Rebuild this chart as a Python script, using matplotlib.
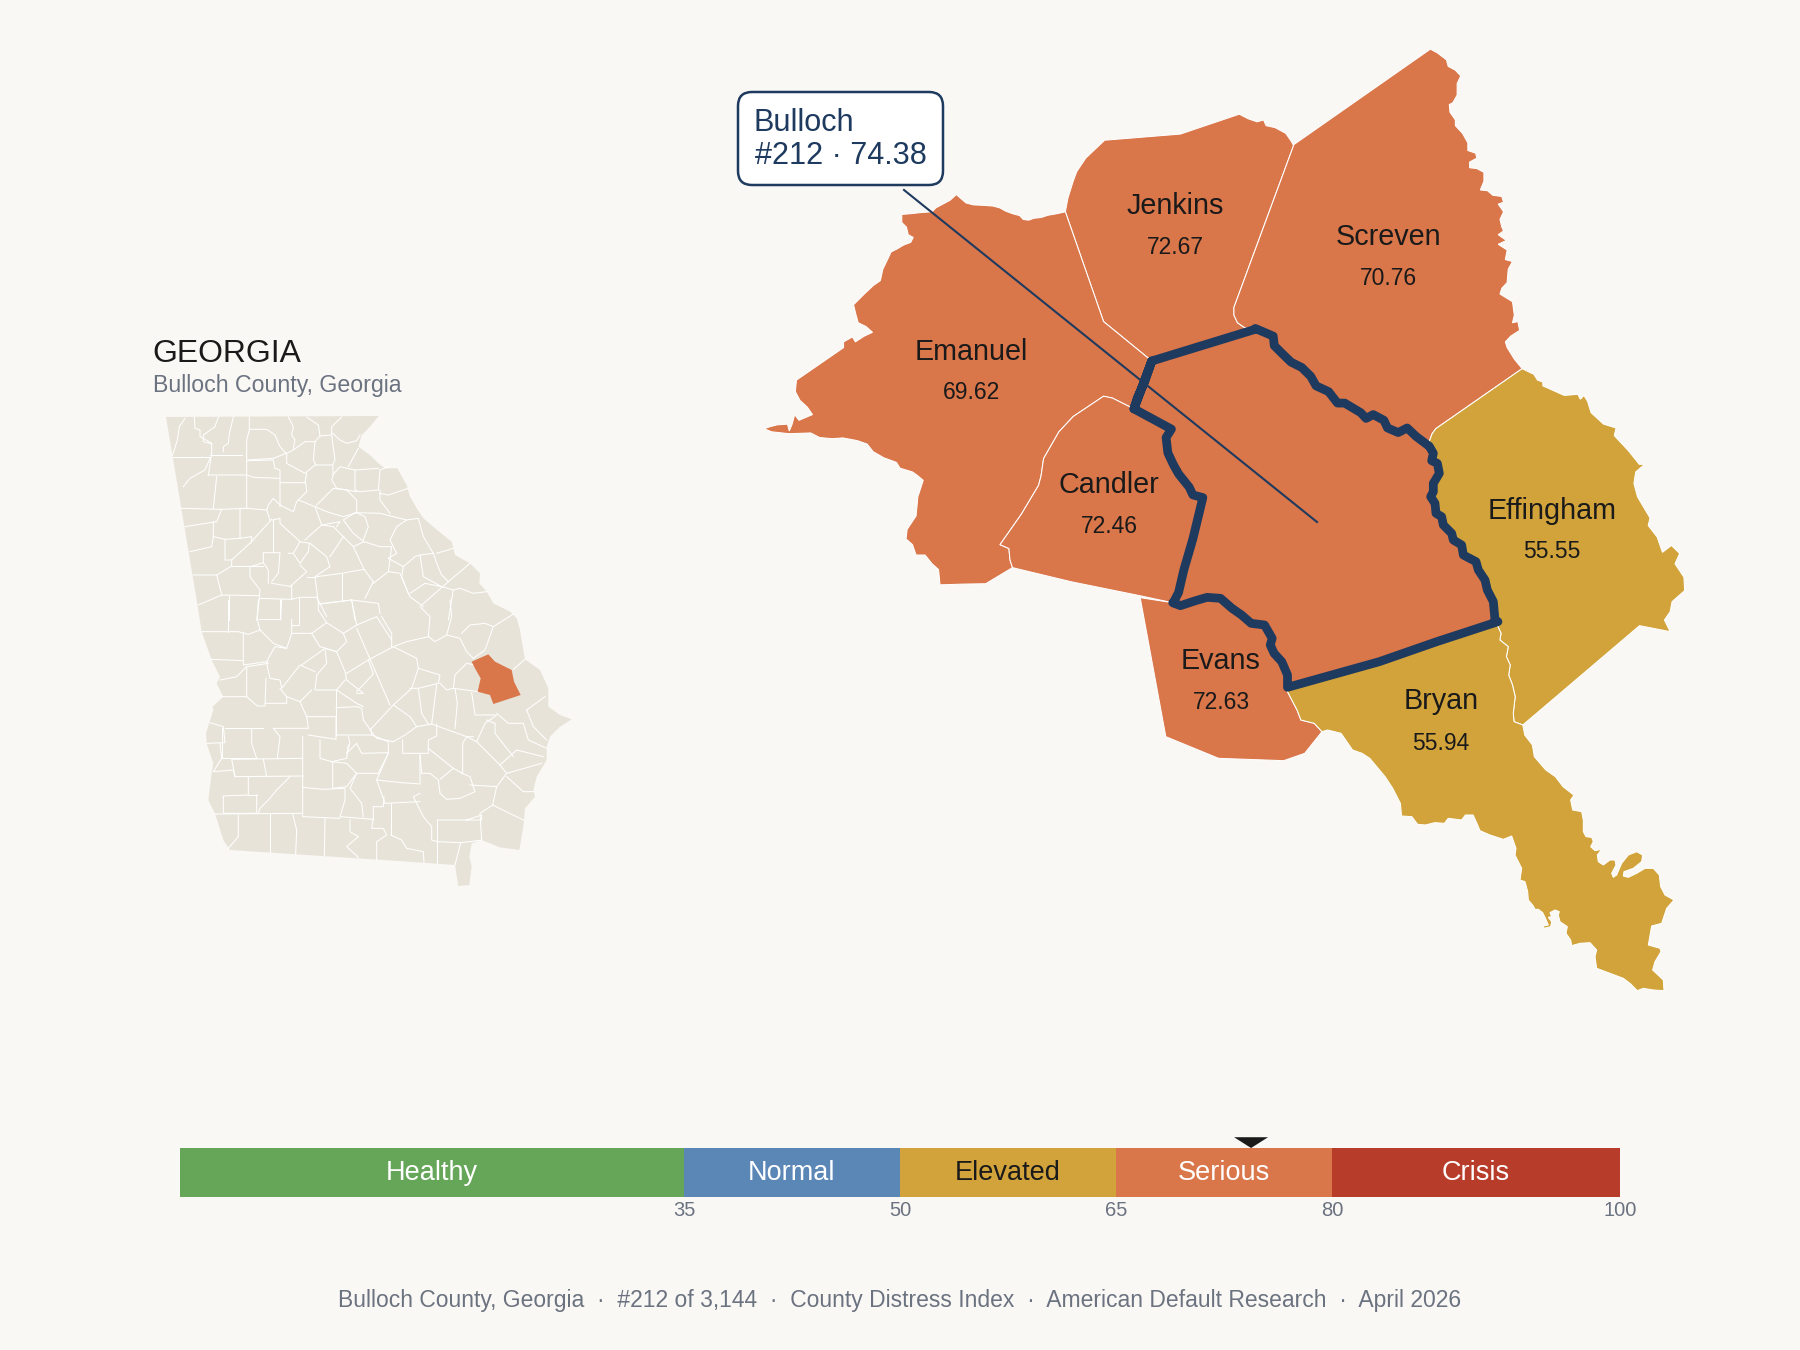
import numpy as np
import matplotlib
matplotlib.use("Agg")
import matplotlib.pyplot as plt
from matplotlib.patches import FancyBboxPatch, Polygon

plt.rcParams['font.family'] = ['Liberation Sans', 'DejaVu Sans']

# =========================
# Data
# =========================
COUNTY_NAMES = ['Jenkins', 'Screven', 'Emanuel', 'Candler', 'Effingham', 'Evans', 'Bryan']
COUNTY_SCORES = [72.67, 70.76, 69.62, 72.46, 55.55, 72.63, 55.94]
FOCUS_NAME = 'Bulloch'
FOCUS_RANK = 212
FOCUS_SCORE = 74.38

BAND_NAMES = ['Healthy', 'Normal', 'Elevated', 'Serious', 'Crisis']
BAND_EDGES = [0, 35, 50, 65, 80, 100]

# county outlines (each list has its own frame, see FRAMES)
EMANUEL_NORTH = [(883,475),(860,480),(835,484),(815,490),(795,492),(780,497),(765,495),(755,485),(735,480),(715,473),(700,465),(680,460),(650,458),(625,457),(605,452),(590,440),(578,430),(560,445),(540,455),(520,465),(510,475),(480,477),(450,480),(425,482),(425,503),(438,515),(443,535),(457,542),(450,555),(430,562),(412,572),(395,580),(385,600),(372,625),(365,655),(345,668),(320,690),(290,718),(297,745),(303,765),(325,775),(343,790),(320,800),(295,815),(287,802),(262,815),(262,830),(130,915),(127,945),(140,968),(160,985),(175,1005),(137,1020),(125,1005),(118,1030),(110,1048),(105,1030),(75,1032),(55,1037),(40,1042),(60,1050),(110,1055),(170,1053),(195,1065),(230,1068),(260,1066),(300,1073),(328,1082),(345,1102),(375,1118),(410,1130),(420,1145),(455,1155),(470,1165),(485,1177),(470,1220),(465,1270),(440,1305),(437,1330),(455,1345),(465,1372),(490,1372),(510,1395),(528,1410),(532,1450),(600,1448),(660,1447),(735,1405)]
CANDLER_WEST = [(735,1405),(728,1385),(725,1355),(700,1345),(760,1265),(808,1190),(815,1165),(822,1120),(865,1050),(905,1010),(990,957),(1015,962),(1075,990)]
CANDLER_EAST = [(1075,990),(1180,1043),(1165,1065),(1170,1105),(1185,1135),(1200,1160),(1230,1195),(1240,1215),(1268,1222),(1240,1330),(1215,1410),(1200,1470),(1185,1497)]
CANDLER_SOUTH = [(735,1405),(900,1442),(1090,1478),(1185,1497)]
BULLOCH_NW = [(1075,990),(1085,960),(1105,920),(1125,865)]
BULLOCH_NORTH = [(1125,865),(1415,782)]
JENKINS_WEST = [(1125,865),(990,762),(883,475)]
JENKINS_NORTH = [(883,475),(890,440),(905,395),(915,370),(940,335),(993,288),(1205,272),(1370,220),(1395,232),(1420,240),(1438,235),(1445,250),(1470,255),(1500,270),(1515,290),(1522,302)]
JENKINS_EAST = [(1522,302),(1355,725),(1355,745),(1365,765),(1385,778),(1415,782)]
BULLOCH_NE = [(295,780),(320,790),(345,800),(348,825),(375,850),(395,868),(425,882),(450,905),(465,930),(500,945),(525,975),(545,975),(590,1000),(605,1015),(625,1005),(655,1020),(665,1040),(695,1052),(720,1040),(745,1062),(782,1088)]
BULLOCH_EAST = [(88,79),(100,100),(95,122),(112,130),(118,160),(100,190),(100,215),(92,230),(105,250),(108,280),(125,290),(130,315),(155,340),(160,360),(185,375),(190,405),(228,425),(235,450),(255,480),(262,510),(280,545),(285,600)]
SCREVEN_OUTER = [(402,300),(785,50),(805,60),(830,78),(835,95),(855,105),(870,120),(860,140),(860,170),(848,190),(838,195),(840,215),(855,235),(855,250),(875,270),(890,295),(890,315),(912,322),(915,335),(895,345),(895,360),(915,362),(935,372),(935,395),(925,418),(945,420),(960,432),(985,435),(990,450),(975,455),(990,475),(980,495),(985,515),(990,525),(975,535),(998,550),(975,560),(1000,575),(995,600),(1015,605),(1003,625),(1000,660),(985,675),(980,690),(1015,710),(1020,745),(1015,765),(1030,762),(1035,785),(1010,800),(995,815),(1000,830),(1020,860),(1042,885)]
SCREVEN_SOUTH = [(1042,885),(800,1042),(790,1055),(782,1075),(782,1088)]
EFFINGHAM_OUTER = [(1042,885),(1075,900),(1085,915),(1100,920),(1100,930),(1160,955),(1198,952),(1205,965),(1215,955),(1225,970),(1235,1000),(1270,1030),(1305,1040),(1300,1060),(1340,1100),(1370,1135),(1385,1135),(1360,1155),(1355,1185),(1365,1220),(1400,1275),(1395,1295),(1420,1325),(1435,1365),(1460,1347),(1483,1368),(1470,1395),(1495,1430),(1497,1465)]
EFFINGHAM_SE = [(1495,125),(1490,155),(1475,180),(1490,215),(1410,197),(1105,495)]
EFFINGHAM_BRYAN = [(1105,495),(1082,485),(1080,460),(1085,410),(1078,375),(1068,345),(1072,315),(1062,290),(1067,260),(1045,240),(1048,220),(1040,200),(1040,185)]
BULLOCH_SOUTH = [(1040,185),(880,245),(730,305),(490,382)]
EVANS_BULLOCH = [(490,382),(490,345),(475,305),(455,280),(445,255),(450,235),(430,195),(395,190),(370,165),(345,145),(315,115),(280,112),(250,122),(210,137),(190,128)]
EVANS_OUTER = [(190,128),(105,113),(172,530),(310,595),(480,602),(535,580),(580,515)]
EVANS_BRYAN = [(580,515),(560,490),(525,480),(515,450),(490,395),(490,382)]
BRYAN_EAST = [(1105,495),(1110,525),(1130,555),(1135,590),(1165,630),(1190,650),(1210,680),(1238,705)]
BRYAN_TIP = [(282,45),(272,60),(278,90),(305,95),(310,120),(310,155),(318,170),(335,172),(340,185),(332,200),(345,212),(365,208),(352,225),(355,245),(370,255),(390,240),(405,240),(408,255),(395,280),(400,292),(410,285),(425,250),(445,225),(470,215),(488,225),(485,245),(460,265),(432,275),(430,288),(445,292),(470,280),(495,265),(520,265),(538,285),(542,320),(555,345),(582,360),(560,385),(545,430),(515,438),(505,495),(540,505),(543,515),(525,545),(518,570),(550,600),(552,632),(520,630),(490,625),(472,632),(450,610),(430,595),(350,565),(345,530),(350,510),(330,488),(300,490),(275,497),(272,480),(258,460),(262,440),(240,425),(235,405),(238,395),(225,390),(210,398),(215,410),(205,412),(215,425),(212,440),(192,445),(190,438),(205,435),(195,412),(188,398),(175,388),(165,388),(160,378),(145,360),(143,335),(135,305),(120,300),(125,265),(105,225),(108,205),(95,168),(70,178),(30,165),(0,152)]
BRYAN_WEST = [(985,790),(975,765),(955,765),(945,780),(910,775),(900,790),(875,788),(850,795),(830,793),(815,770),(788,768),(785,730),(765,685),(745,650),(705,595),(685,580),(660,570),(630,520),(595,510),(580,515)]

# state inset
GA_OUTLINE_N = [(78,291),(716,288),(690,320),(665,345),(655,380),(690,405),(715,430),(735,445),(772,445),(800,495),(810,530),(830,565),(850,595),(885,625),(935,665),(945,705),(990,730),(1020,760),(1018,790),(1040,815),(1060,850),(1110,875),(1130,895)]
GA_OUTLINE_S = [(1020,90),(1030,150),(1035,178),(1080,210),(1105,265),(1105,320),(1140,345),(1175,358),(1140,380),(1110,410),(1100,440),(1100,480),(1070,530),(1060,570),(1065,590),(1035,625),(1030,680),(1018,750),(960,742),(905,720),(875,730),(868,770),(875,800),(868,855),(835,858),(825,795),(640,782),(150,750),(130,720),(105,640),(85,600),(95,520),(100,490),(80,430),(78,400),(100,330),(98,320),(130,290),(110,250),(120,230),(95,180),(65,95),(50,0)]
GA_BULLOCH = [(875,185),(925,163),(945,185),(995,210),(1002,245),(1022,285),(940,312),(930,285),(893,275),(902,235),(885,205)]

GA_LINES_N = [
    [(135,295),(118,320),(112,360),(98,405)], [(98,410),(210,410)], [(163,291),(165,325),(180,330),(180,350),(215,370),(215,400),(205,465)],
    [(235,291),(225,320),(190,345),(190,365),(215,372)], [(280,291),(268,340),(265,370),(250,380),(250,395)],
    [(328,291),(328,330),(320,360),(320,465),(320,565)], [(328,328),(380,328),(405,345),(420,380),(438,400),(400,415),(325,420)],
    [(210,405),(305,405)], [(205,465),(320,465),(340,472),(420,475)], [(322,422),(400,420),(405,445),(420,450),(420,560)],
    [(210,415),(195,450),(150,475),(130,500)], [(230,470),(220,565)], [(125,565),(245,568),(320,565),(380,570)],
    [(245,568),(230,605),(135,620)], [(300,565),(300,655),(255,658),(255,720),(275,720)], [(220,605),(220,650),(255,658)],
    [(220,650),(215,680),(150,695)], [(300,655),(335,650),(335,665),(275,720),(275,738)],
    [(422,488),(497,488),(500,515),(470,545),(460,575),(420,555),(400,535),(385,555),(380,570),(390,600)],
    [(395,598),(330,670)], [(398,600),(398,695)], [(398,600),(420,595),(420,610),(480,665),(460,700),(445,700)],
    [(370,698),(420,698),(415,760),(395,785)], [(370,698),(370,728),(330,740),(330,770),(360,810),(358,830)],
    [(275,738),(370,738)], [(370,728),(385,750),(385,790)], [(160,765),(230,765),(245,825)], [(230,765),(275,738)],
    [(245,825),(175,855)], [(245,825),(358,827)], [(267,827),(267,900)], [(358,835),(350,900)],
    [(358,835),(455,838),(478,832),(530,832)], [(395,790),(455,800),(455,838)], [(425,838),(422,900)], [(478,835),(478,900)],
    [(530,832),(540,850),(560,890)], [(540,852),(635,840),(715,850),(720,880)], [(635,840),(645,900)], [(605,760),(605,840)],
    [(530,770),(605,760),(672,748),(700,785),(675,835)], [(700,790),(745,755),(780,760),(805,820),(810,830),(850,860)],
    [(480,665),(510,670),(560,710),(570,740),(525,770),(535,850)], [(500,770),(525,770)], [(480,735),(500,755),(450,800)],
    [(570,710),(610,650),(640,680),(672,748)], [(495,660),(545,615),(580,620),(610,650)], [(508,670),(505,695),(480,730),(460,700)],
    [(640,680),(672,665),(720,680),(755,680),(745,755)], [(590,620),(600,605),(545,615),(525,560),(475,540)],
    [(530,555),(580,505),(620,510),(650,540),(650,575),(610,600),(640,640),(672,665)],
    [(525,560),(560,575),(610,590),(650,578),(675,590),(685,620),(670,660)],
    [(645,578),(720,580),(800,600),(835,595),(850,650),(880,700),(840,705),(825,710),(790,740),(745,715)],
    [(800,600),(770,620),(750,660),(770,700),(745,715)], [(840,705),(850,770),(905,800),(855,790),(810,820)],
    [(880,700),(890,730),(905,765),(925,785),(990,730)], [(940,685),(890,700)], [(925,785),(845,855)],
    [(905,800),(940,810),(925,900)], [(940,810),(960,805),(1000,820),(1040,815)], [(790,740),(785,770),(805,820)], [(500,460),(495,488)],
    [(440,400),(440,430),(495,460),(525,435),(578,435),(580,465),(575,480),(590,505),(650,515)], [(495,365),(460,390),(440,400)],
    [(525,365),(520,420),(528,435)], [(495,365),(525,365),(540,348),(575,345),(585,420),(578,435)],
    [(578,465),(600,440),(645,450),(645,510),(660,515),(715,510),(720,450),(745,440)], [(645,450),(715,445)], [(625,440),(655,385)],
    [(578,340),(600,360),(620,370),(650,362),(660,345)], [(445,291),(460,320),(455,345),(465,360),(460,385)],
    [(500,291),(535,315),(540,348)], [(605,291),(575,320),(575,345)], [(720,520),(745,525),(805,505)], [(720,510),(720,540),(750,580)],
]
GA_LINES_S = [
    [(65,95),(175,95),(205,103),(240,90)], [(145,0),(145,95)], [(235,0),(232,60),(240,90)], [(300,0),(300,58),(238,58)],
    [(335,58),(335,100),(320,145),(280,130),(260,110),(240,90)], [(358,0),(358,75),(335,75)],
    [(335,100),(395,100),(440,68),(415,30),(415,12),(515,0)], [(395,100),(420,140),(470,155),(500,125),(490,100),(440,68)],
    [(515,0),(530,75),(590,50),(635,120)], [(530,75),(490,100)], [(530,85),(630,315)], [(470,155),(495,215),(500,240)],
    [(470,155),(435,145),(365,195)], [(435,145),(440,190),(410,225),(405,270),(470,270),(495,240)], [(190,100),(190,195),(260,185)],
    [(92,178),(190,182)], [(320,145),(285,140),(265,175),(260,190)], [(260,190),(270,235),(300,240),(305,265),(360,195),(405,215)],
    [(265,190),(200,200),(200,290),(125,290)], [(200,200),(170,230),(120,240)], [(200,290),(232,318),(255,318),(258,235)],
    [(255,310),(320,310),(320,290),(300,265)], [(320,290),(360,305),(395,270)], [(360,305),(380,350),(385,385),(280,385),(300,410),(292,475)],
    [(380,350),(468,350),(468,418),(385,405)], [(468,270),(468,405)], [(468,323),(530,320),(545,325),(550,360),(575,395),(575,405),(468,405)],
    [(470,270),(530,310),(550,320)], [(500,240),(550,280),(530,280)], [(500,220),(565,180),(640,140),(710,175),(715,205),(695,265),(640,315),(570,390)],
    [(565,180),(580,222),(530,275)], [(640,140),(680,125),(745,110),(765,125),(800,105),(840,115),(860,155),(880,175)],
    [(605,50),(635,100),(635,140)], [(745,110),(750,50),(720,20)], [(800,105),(815,50),(810,0)], [(845,100),(870,75),(915,70),(940,80),(915,150),(880,175)],
    [(940,80),(1000,42)], [(1035,178),(1000,208)], [(715,205),(780,225),(775,250),(715,265),(690,265)],
    [(780,250),(800,270),(820,265),(825,225),(860,190),(885,195)], [(820,265),(895,275)], [(875,278),(885,345),(945,345)],
    [(825,265),(832,310),(825,385)], [(770,255),(755,372)], [(715,265),(725,340),(745,372)], [(640,315),(690,350),(710,380),(755,372),(860,410),(880,410)],
    [(570,390),(590,415),(640,425),(675,405),(710,380)], [(770,372),(770,408),(745,420),(745,460),(668,460),(668,420)],
    [(575,405),(625,425),(625,460),(595,520),(530,520),(500,490),(455,485),(420,475),(420,420)], [(505,410),(510,430),(500,460),(530,430),(545,460),(625,458)],
    [(505,435),(500,475),(455,485)], [(625,460),(590,540),(665,548),(720,552),(720,465)],
    [(720,465),(725,520),(750,520),(775,540),(780,580),(800,598),(840,595),(885,575),(870,530),(845,520)], [(745,445),(820,505),(780,538)],
    [(820,505),(848,520),(848,430),(860,410),(890,425),(960,495),(1010,450)], [(870,555),(950,560),(938,615),(900,640),(905,720)],
    [(960,495),(980,520),(950,560)], [(980,530),(1030,575),(1060,575)], [(938,615),(1030,660)], [(980,520),(1085,490)], [(1010,450),(1090,470)],
    [(890,425),(915,370),(950,345)], [(920,360),(945,370),(945,400),(1000,470)], [(950,340),(985,370),(1030,370),(1045,420),(1100,445)],
    [(1040,330),(1060,380),(1100,420)], [(1040,330),(1095,290)], [(590,540),(615,610),(720,605)], [(720,580),(700,590),(730,650),(755,680),(755,720),(772,725)],
    [(632,610),(632,705)], [(580,620),(580,655),(575,685),(610,685),(620,705),(590,725),(590,780)], [(632,705),(665,720),(680,745),(730,755),(732,788)],
    [(530,520),(510,565),(545,610),(550,650)], [(458,485),(458,565),(500,560),(530,520)], [(368,410),(368,650),(480,655)],
    [(368,562),(430,568),(495,565),(495,600),(480,650),(580,658)], [(612,590),(610,620),(580,620)], [(158,478),(368,475)],
    [(125,385),(125,475),(230,475)], [(135,385),(250,385)], [(90,368),(130,380),(135,428),(80,430)], [(120,430),(125,475),(100,515),(160,510),(165,530),(370,528)],
    [(155,478),(165,530)], [(250,478),(260,530)], [(215,385),(215,430),(230,475)], [(205,530),(205,585),(130,588),(130,640),(230,640),(230,585)],
    [(105,642),(365,640)], [(205,585),(230,585)], [(330,530),(290,570),(265,600),(240,625),(235,640)], [(175,645),(175,710),(145,745)],
    [(270,642),(270,760)], [(338,642),(350,690),(347,762)], [(435,655),(433,768)], [(510,660),(510,695),(535,710),(500,740),(535,772)],
    [(772,660),(905,660),(905,645),(860,660)], [(772,660),(772,790)], [(772,725),(842,728),(825,795)], [(842,728),(870,725),(905,720)],
]

# =========================
# Layout / style
# =========================
FRAMES = {
    'west': (750, 30, 2.8, 2.6133),
    'east': (1150, 30, 2.8, 2.6133),
    'south': (1100, 560, 2.6133, 3.0),
    'bulloch_e': (1400, 420, 3.0, 3.0),
    'tip': (1480, 780, 3.0, 3.0),
    'ga_n': (140, 320, 3.0, 3.0),
    'ga_s': (180, 600, 3.0, 3.0),
}

BG = '#FAF8F5'
NAVY = '#1E3A5F'
INK = '#1A1A1A'
GRAY = '#6B7280'
SERIOUS = '#D9764A'
ELEVATED = '#D1A33A'
BAND_COLORS = ['#66A659', '#5B87B7', ELEVATED, SERIOUS, '#B73C2A']
BAND_TEXT = ['white', 'white', INK, 'white', 'white']

LABEL_X = [1175, 1388, 971, 1109, 1552, 1221, 1441]
LABEL_Y = [214, 245, 360, 493, 519, 669, 709]
VALUE_Y = [254, 285, 399, 533, 558, 709, 750]


def px(points, frame):
    x0, y0, sx, sy = FRAMES[frame]
    pts = np.array(points, dtype=float)
    return np.column_stack([x0 + pts[:, 0] / sx, y0 + pts[:, 1] / sy])


def ring(*parts):
    return np.vstack(parts)


# segments in figure pixels
em_n = px(EMANUEL_NORTH, 'west')
ca_w = px(CANDLER_WEST, 'west')
ca_e = px(CANDLER_EAST, 'west')
ca_s = px(CANDLER_SOUTH, 'west')
bu_nw = px(BULLOCH_NW, 'west')
bu_n = px(BULLOCH_NORTH, 'west')
je_w = px(JENKINS_WEST, 'west')
je_n = px(JENKINS_NORTH, 'west')
je_e = px(JENKINS_EAST, 'west')
bu_ne = px(BULLOCH_NE, 'east')
bu_e = px(BULLOCH_EAST, 'bulloch_e')
sc_o = px(SCREVEN_OUTER, 'east')
sc_s = px(SCREVEN_SOUTH, 'east')
ef_o = ring(px(EFFINGHAM_OUTER, 'east'), px(EFFINGHAM_SE, 'south'))
ef_b = px(EFFINGHAM_BRYAN, 'south')
bu_s = px(BULLOCH_SOUTH, 'south')
ev_b = px(EVANS_BULLOCH, 'south')
ev_o = px(EVANS_OUTER, 'south')
ev_br = px(EVANS_BRYAN, 'south')
br_o = ring(px(BRYAN_EAST, 'south'), px(BRYAN_TIP, 'tip'), px(BRYAN_WEST, 'south'))

county_rings = {
    'Emanuel': ring(em_n, ca_w, bu_nw, je_w),
    'Candler': ring(ca_w, ca_e, ca_s[::-1]),
    'Jenkins': ring(je_n, je_e, bu_n[::-1], je_w),
    'Screven': ring(sc_o, sc_s, bu_ne[::-1], je_e[::-1]),
    'Effingham': ring(ef_o, ef_b, bu_e[::-1], sc_s[::-1]),
    'Bryan': ring(bu_s[::-1], ef_b[::-1], br_o, ev_br),
    'Evans': ring(ev_o, ev_br, ev_b),
}
bulloch_ring = ring(bu_n, bu_ne, bu_e, bu_s, ev_b, ca_e[::-1], bu_nw[::-1])

# =========================
# Figure
# =========================
W, H = 1800, 1350
fig = plt.figure(figsize=(12, 9), dpi=150, facecolor=BG)
ax = fig.add_axes([0, 0, 1, 1])
ax.set_xlim(0, W)
ax.set_ylim(H, 0)
ax.axis('off')

# inset
ga = ring(px(GA_OUTLINE_N, 'ga_n'), px(GA_OUTLINE_S, 'ga_s'))
ax.add_patch(Polygon(ga, closed=True, facecolor='#E8E3D8', edgecolor='none', zorder=1))
for line in GA_LINES_N:
    p = px(line, 'ga_n')
    ax.plot(p[:, 0], p[:, 1], color='white', lw=0.5, zorder=2, solid_joinstyle='round')
for line in GA_LINES_S:
    p = px(line, 'ga_s')
    ax.plot(p[:, 0], p[:, 1], color='white', lw=0.5, zorder=2, solid_joinstyle='round')
ax.add_patch(Polygon(px(GA_BULLOCH, 'ga_s'), closed=True, facecolor=SERIOUS, edgecolor='none', zorder=3))

ax.text(152, 362, 'GEORGIA', fontsize=15.3, color=INK, va='baseline')
ax.text(153, 392, 'Bulloch County, Georgia', fontsize=11.1, color=GRAY, va='baseline')

# counties
ax.add_patch(Polygon(bulloch_ring, closed=True, facecolor=SERIOUS, edgecolor='none', zorder=4))
for name, score, lx, ly, vy in zip(COUNTY_NAMES, COUNTY_SCORES, LABEL_X, LABEL_Y, VALUE_Y):
    fill = ELEVATED if score < 65 else SERIOUS
    ax.add_patch(Polygon(county_rings[name], closed=True, facecolor=fill,
                         edgecolor='white', linewidth=0.5, zorder=4))
    ax.text(lx, ly, name, fontsize=13.8, color=INK, ha='center', va='baseline', zorder=8)
    ax.text(lx, vy, f'{score:.2f}', fontsize=11, color=INK, ha='center', va='baseline', zorder=8)

ax.add_patch(Polygon(bulloch_ring, closed=True, facecolor='none', edgecolor=NAVY,
                     linewidth=4.2, joinstyle='round', zorder=5))

# callout
ax.plot([904, 1317], [190, 522], color=NAVY, lw=1.0, zorder=6)
ax.add_patch(FancyBboxPatch((751, 105), 179, 67, boxstyle='round,pad=13,rounding_size=14',
                            facecolor='white', edgecolor=NAVY, linewidth=1.2, zorder=7))
ax.text(754, 131, FOCUS_NAME, fontsize=14.7, color=NAVY, va='baseline', zorder=8)
ax.text(755, 164, f'#{FOCUS_RANK} · {FOCUS_SCORE:.2f}', fontsize=14.7, color=NAVY, va='baseline', zorder=8)

ax.text(900, 1307, 'Bulloch County, Georgia  ·  #212 of 3,144  ·  County Distress Index  ·  American Default Research  ·  April 2026',
        fontsize=11, color=GRAY, ha='center', va='baseline')

# score bar
ax_bar = fig.add_axes([180 / W, 1 - 1197 / H, 1440 / W, 49 / H], facecolor='none')
ax_bar.set_xlim(BAND_EDGES[0], BAND_EDGES[-1])
ax_bar.set_ylim(0, 1)
lefts = np.array(BAND_EDGES[:-1])
widths = np.diff(BAND_EDGES)
ax_bar.barh(0.5, widths, left=lefts, height=1, color=BAND_COLORS, linewidth=0)
for name, left, width, col in zip(BAND_NAMES, lefts, widths, BAND_TEXT):
    ax_bar.text(left + width / 2, 0.35, name, fontsize=13, color=col, ha='center', va='baseline')
for s in ax_bar.spines.values():
    s.set_visible(False)
ax_bar.set_yticks([])
ax_bar.set_xticks(BAND_EDGES[1:])
ax_bar.set_xticklabels([str(v) for v in BAND_EDGES[1:]], fontsize=9.7, color=GRAY)
ax_bar.tick_params(axis='x', length=0, pad=1.9)
ax_bar.fill([FOCUS_SCORE - 1.18, FOCUS_SCORE + 1.18, FOCUS_SCORE], [1.22, 1.22, 1.0],
            color=INK, linewidth=0, clip_on=False)

fig.savefig('out.png', dpi=150, facecolor=BG)
